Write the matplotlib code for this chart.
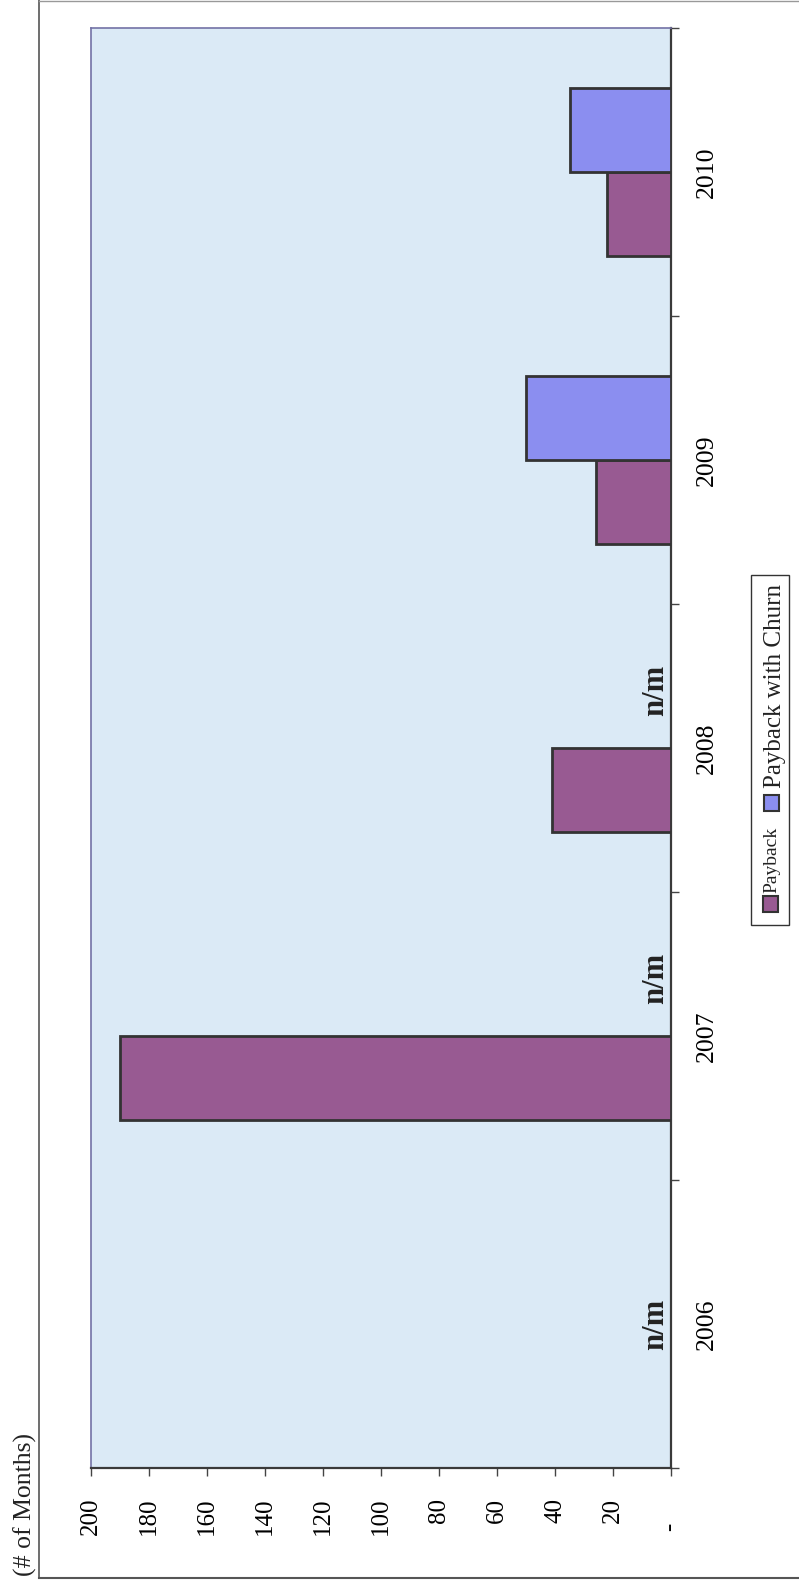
import matplotlib
matplotlib.use("Agg")
import matplotlib.pyplot as plt
import matplotlib.patches as patches
from matplotlib.lines import Line2D

plt.rcParams['font.family'] = ['Liberation Serif', 'DejaVu Serif']

years = ['2006', '2007', '2008', '2009', '2010']
payback = [None, 190, 41, 26, 22]
payback_churn = [None, None, None, 50, 35]
value_ticks = [200, 180, 160, 140, 120, 100, 80, 60, 40, 20, 0]
value_labels = ['200', '180', '160', '140', '120', '100', '80', '60', '40', '20', '-    ']
series_names = ['Payback', 'Payback with Churn']

W, H = 799, 1585
BG = '#dbeaf6'
PURPLE = '#985a92'
BLUE = '#8b8ef0'
EDGE = '#333333'


def fx(x):
    return x / W


def fy(y):
    return 1 - y / H


fig = plt.figure(figsize=(W / 100, H / 100), dpi=100)
fig.patch.set_facecolor('white')

# outer chart border
fig.add_artist(Line2D([fx(39), fx(39)], [fy(0), fy(1578)], color='#555555', lw=1.2))
fig.add_artist(Line2D([fx(39), 1], [fy(1578), fy(1578)], color='#555555', lw=1.5))
fig.add_artist(Line2D([fx(39), 1], [fy(1), fy(1)], color='#999999', lw=1.0))

ax = fig.add_axes([fx(91), fy(1468), fx(671) - fx(91), fy(28) - fy(1468)])
ax.set_facecolor(BG)

bw = 0.29
idx = list(range(len(years)))

# Payback bars (lower slot), churn bars (upper slot)
pb_y = [i - bw / 2 for i, v in zip(idx, payback) if v is not None]
pb_v = [v for v in payback if v is not None]
ax.barh(pb_y, pb_v, height=bw, color=PURPLE, edgecolor=EDGE, linewidth=2, zorder=3)

ch_y = [i + bw / 2 for i, v in zip(idx, payback_churn) if v is not None]
ch_v = [v for v in payback_churn if v is not None]
ax.barh(ch_y, ch_v, height=bw, color=BLUE, edgecolor=EDGE, linewidth=2, zorder=3)

# n/m labels where data is missing
for i, (p, c) in enumerate(zip(payback, payback_churn)):
    if p is None and c is None:
        ypos = i
    elif c is None:
        ypos = i + bw / 2 + 0.055
    else:
        continue
    ax.annotate('n/m', xy=(0, ypos), xytext=(-6, 0), textcoords='offset points',
                rotation=90, rotation_mode='anchor', ha='center', va='baseline',
                fontsize=22, fontweight='bold', color='#222222', zorder=4)

ax.set_xlim(200, 0)
ax.set_ylim(-0.5, len(years) - 0.5)

# value axis along the bottom
ax.set_xticks(value_ticks)
ax.set_xticklabels(value_labels, rotation=90, fontsize=18)
ax.tick_params(axis='x', direction='out', length=6, width=1, color='#444444', pad=15.5)

# category axis on the right
ax.yaxis.tick_right()
ax.set_yticks([i - 0.5 for i in range(len(years) + 1)])
ax.set_yticklabels([])
ax.set_yticks(idx, minor=True)
ax.set_yticklabels(years, minor=True, rotation=90, fontsize=18.5, va='center')
ax.tick_params(axis='y', which='major', direction='out', length=6, width=1, color='#444444')
ax.tick_params(axis='y', which='minor', length=0, pad=18)

for side in ['left', 'top']:
    ax.spines[side].set_color('#7372a6')
    ax.spines[side].set_linewidth(1.2)
for side in ['right', 'bottom']:
    ax.spines[side].set_color('#3a3a3a')
    ax.spines[side].set_linewidth(1.6)

# axis title
fig.text(fx(25), fy(1505), '(# of Months)', rotation=90, ha='center', va='center',
         fontsize=18.5, color='#222222')

# legend drawn by hand (rotated like the rest of the chart)
fig.add_artist(patches.Rectangle((fx(751), fy(925)), fx(789) - fx(751), fy(575) - fy(925),
                                 transform=fig.transFigure, facecolor='white',
                                 edgecolor='#333333', lw=1.0))
fig.add_artist(patches.Rectangle((fx(763), fy(912)), fx(15), fy(0) - fy(16),
                                 transform=fig.transFigure, facecolor=PURPLE,
                                 edgecolor=EDGE, lw=1.5))
fig.text(fx(772), fy(860), series_names[0], rotation=90, ha='center', va='center',
         fontsize=14, color='#222222')
fig.add_artist(patches.Rectangle((fx(764), fy(811)), fx(15), fy(0) - fy(16),
                                 transform=fig.transFigure, facecolor=BLUE,
                                 edgecolor=EDGE, lw=1.5))
fig.text(fx(775), fy(686), series_names[1], rotation=90, ha='center', va='center',
         fontsize=18, color='#222222')

fig.savefig('out.png', dpi=100)
